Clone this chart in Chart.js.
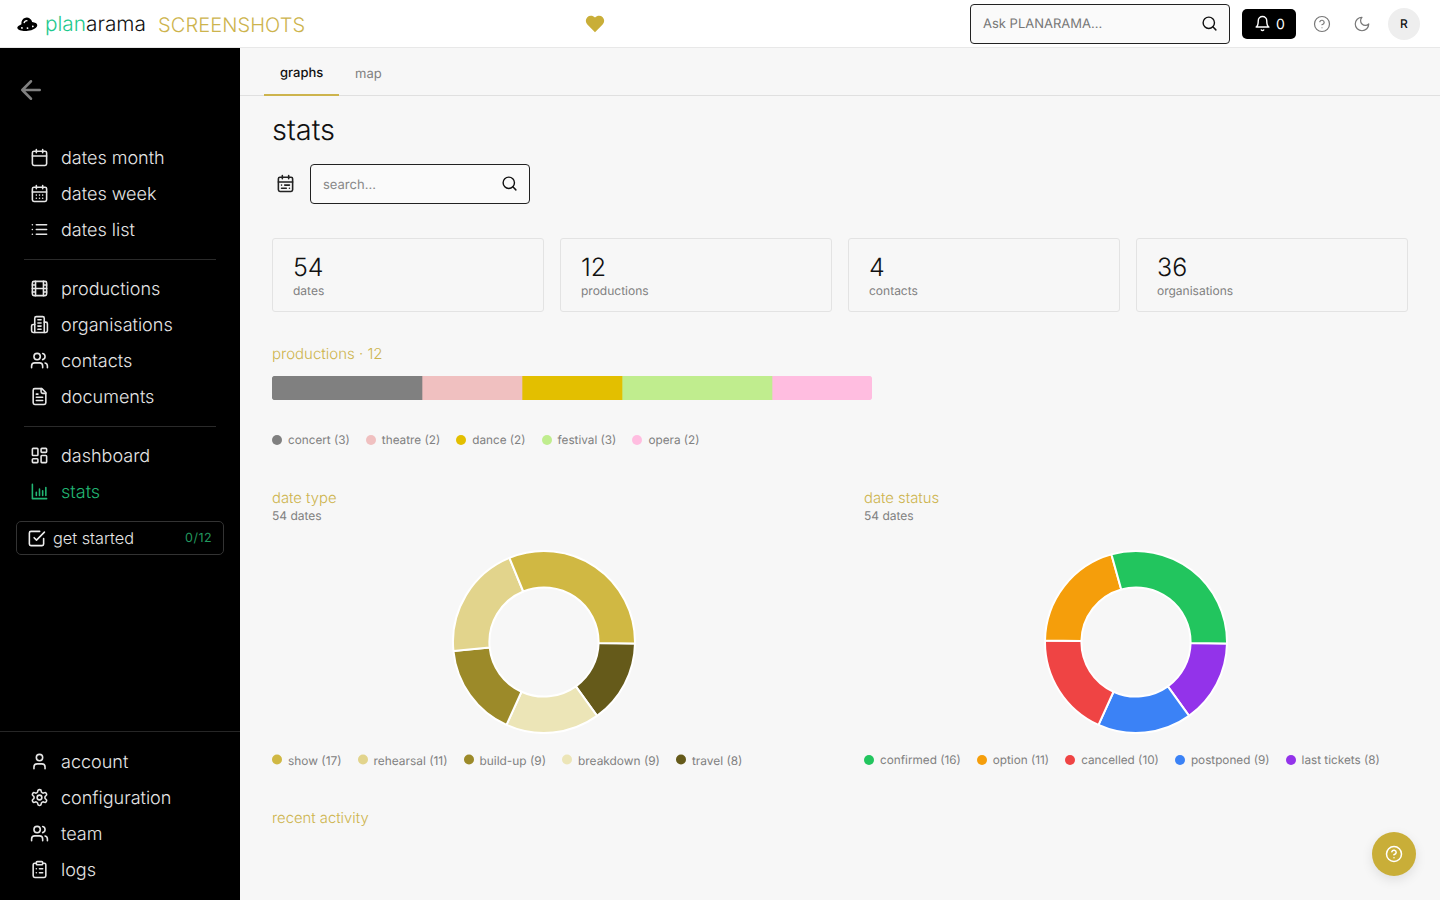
<!DOCTYPE html>
<html>
<head>
<meta charset="utf-8">
<title>planarama stats</title>
<script src="https://cdn.jsdelivr.net/npm/chart.js@4"></script>
<style>
  html, body { margin: 0; height: 100%; overflow: hidden; background: #f7f7f7; font-family: Inter, sans-serif; text-rendering: geometricPrecision; }
  #page { position: relative; width: 1440px; height: 900px; overflow: hidden; }
  .box { position: absolute; box-sizing: border-box; }
  .t { position: absolute; white-space: nowrap; transform: translateY(-50%); line-height: 1.2; }
  svg.i { position: absolute; fill: none; stroke: currentColor; stroke-linecap: round; stroke-linejoin: round; }
  canvas { position: absolute; }
  .legend { position: absolute; display: flex; gap: 16px; font-size: 11.75px; color: #808080; white-space: nowrap; transform: translateY(-50%); }
  .legend span { display: flex; align-items: center; gap: 6px; }
  .legend i { width: 10px; height: 10px; border-radius: 50%; display: block; }
</style>
</head>
<body>
<div id="page"></div>
<script>
// data
const productionLabels = ['concert', 'theatre', 'dance', 'festival', 'opera'];
const productionValues = [3, 2, 2, 3, 2];
const productionColors = ['#808080', '#f0c0c0', '#e3bf00', '#c0ed8e', '#ffbde0'];

const typeLabels = ['show', 'rehearsal', 'build-up', 'breakdown', 'travel'];
const typeValues = [17, 11, 9, 9, 8];
const typeColors = ['#d0b843', '#e2d48c', '#9c8a29', '#ece5b7', '#655a1a'];

const statusLabels = ['confirmed', 'option', 'cancelled', 'postponed', 'last tickets'];
const statusValues = [16, 11, 10, 9, 8];
const statusColors = ['#22c55e', '#f59e0b', '#ef4444', '#3b82f6', '#9333ea'];

const cardValues = ['54', '12', '4', '36'];
const cardLabels = ['dates', 'productions', 'contacts', 'organisations'];

const GOLD = '#cdb44d';
const page = document.getElementById('page');

const icons = {
  calendar: '<rect x="3" y="4" width="18" height="18" rx="2"/><path d="M16 2v4M8 2v4M3 10h18"/>',
  calendarDays: '<rect x="3" y="4" width="18" height="18" rx="2"/><path d="M16 2v4M8 2v4M3 10h18M8 14h.01M12 14h.01M16 14h.01M8 18h.01M12 18h.01M16 18h.01"/>',
  calendarRange: '<rect x="3" y="4" width="18" height="18" rx="2"/><path d="M16 2v4M8 2v4M3 10h18M17 14h-6M13 18H7M7 14h.01M17 18h.01"/>',
  list: '<path d="M8 6h13M8 12h13M8 18h13M3 6h.01M3 12h.01M3 18h.01"/>',
  film: '<rect x="3" y="3" width="18" height="18" rx="2"/><path d="M7 3v18M3 7.5h4M3 12h18M3 16.5h4M17 3v18M17 7.5h4M17 16.5h4"/>',
  building: '<path d="M6 22V4a2 2 0 0 1 2-2h8a2 2 0 0 1 2 2v18Z"/><path d="M6 12H4a2 2 0 0 0-2 2v6a2 2 0 0 0 2 2h2M18 9h2a2 2 0 0 1 2 2v9a2 2 0 0 1-2 2h-2M10 6h4M10 10h4M10 14h4M10 18h4"/>',
  users: '<path d="M16 21v-2a4 4 0 0 0-4-4H6a4 4 0 0 0-4 4v2"/><circle cx="9" cy="7" r="4"/><path d="M22 21v-2a4 4 0 0 0-3-3.87M16 3.13a4 4 0 0 1 0 7.75"/>',
  file: '<path d="M15 2H6a2 2 0 0 0-2 2v16a2 2 0 0 0 2 2h12a2 2 0 0 0 2-2V7z"/><path d="M14 2v4a2 2 0 0 0 2 2h4M10 9H8M16 13H8M16 17H8"/>',
  dashboard: '<rect x="3" y="3" width="7" height="9" rx="1"/><rect x="14" y="3" width="7" height="5" rx="1"/><rect x="14" y="12" width="7" height="9" rx="1"/><rect x="3" y="16" width="7" height="5" rx="1"/>',
  bars: '<path d="M3 3v18h18M8 17v-4M12 17V9M16 17v-6M20 17V7"/>',
  check: '<path d="m9 11 3 3L22 4"/><path d="M21 12v7a2 2 0 0 1-2 2H5a2 2 0 0 1-2-2V5a2 2 0 0 1 2-2h11"/>',
  user: '<path d="M19 21v-2a4 4 0 0 0-4-4H9a4 4 0 0 0-4 4v2"/><circle cx="12" cy="7" r="4"/>',
  cog: '<path d="M12.22 2h-.44a2 2 0 0 0-2 2v.18a2 2 0 0 1-1 1.73l-.43.25a2 2 0 0 1-2 0l-.15-.08a2 2 0 0 0-2.73.73l-.22.38a2 2 0 0 0 .73 2.73l.15.1a2 2 0 0 1 1 1.72v.51a2 2 0 0 1-1 1.74l-.15.09a2 2 0 0 0-.73 2.73l.22.38a2 2 0 0 0 2.73.73l.15-.08a2 2 0 0 1 2 0l.43.25a2 2 0 0 1 1 1.73V20a2 2 0 0 0 2 2h.44a2 2 0 0 0 2-2v-.18a2 2 0 0 1 1-1.73l.43-.25a2 2 0 0 1 2 0l.15.08a2 2 0 0 0 2.73-.73l.22-.39a2 2 0 0 0-.73-2.73l-.15-.08a2 2 0 0 1-1-1.74v-.5a2 2 0 0 1 1-1.74l.15-.09a2 2 0 0 0 .73-2.73l-.22-.38a2 2 0 0 0-2.73-.73l-.15.08a2 2 0 0 1-2 0l-.43-.25a2 2 0 0 1-1-1.73V4a2 2 0 0 0-2-2z"/><circle cx="12" cy="12" r="3"/>',
  clipboard: '<rect x="8" y="2" width="8" height="4" rx="1"/><path d="M16 4h2a2 2 0 0 1 2 2v14a2 2 0 0 1-2 2H6a2 2 0 0 1-2-2V6a2 2 0 0 1 2-2h2M12 11h4M12 16h4M8 11h.01M8 16h.01"/>',
  search: '<circle cx="11" cy="11" r="8"/><path d="m21 21-4.3-4.3"/>',
  bell: '<path d="M6 8a6 6 0 0 1 12 0c0 7 3 9 3 9H3s3-2 3-9"/><path d="M10.3 21a1.94 1.94 0 0 0 3.4 0"/>',
  help: '<circle cx="12" cy="12" r="10"/><path d="M9.09 9a3 3 0 0 1 5.83 1c0 2-3 3-3 3M12 17h.01"/>',
  moon: '<path d="M12 3a6 6 0 0 0 9 9 9 9 0 1 1-9-9Z"/>',
  arrow: '<path d="m12 19-7-7 7-7M19 12H5"/>'
};

function box(x, y, w, h, css) {
  const el = document.createElement('div');
  el.className = 'box';
  el.style.cssText = `left:${x}px;top:${y}px;width:${w}px;height:${h}px;${css || ''}`;
  page.appendChild(el);
  return el;
}

// text, x is the left edge and cy the vertical middle
function text(str, x, cy, size, weight, color, extra) {
  const el = document.createElement('div');
  el.className = 't';
  el.textContent = str;
  el.style.cssText = `left:${x}px;top:${cy}px;font-size:${size}px;font-weight:${weight};color:${color};${extra || ''}`;
  page.appendChild(el);
  return el;
}

function icon(name, cx, cy, size, color, sw) {
  const ns = 'http://www.w3.org/2000/svg';
  const s = document.createElementNS(ns, 'svg');
  s.setAttribute('viewBox', '0 0 24 24');
  s.setAttribute('class', 'i');
  s.setAttribute('width', size);
  s.setAttribute('height', size);
  s.style.cssText = `left:${cx - size / 2}px;top:${cy - size / 2}px;color:${color};stroke-width:${sw || 2}`;
  s.innerHTML = icons[name];
  page.appendChild(s);
}

function legend(labels, values, colors, x, cy, size) {
  const el = document.createElement('div');
  el.className = 'legend';
  el.style.left = x + 'px';
  el.style.top = cy + 'px';
  if (size) el.style.fontSize = size + 'px';
  labels.forEach((l, i) => {
    const s = document.createElement('span');
    s.innerHTML = `<i style="background:${colors[i]}"></i>${l} (${values[i]})`;
    el.appendChild(s);
  });
  page.appendChild(el);
}

function canvasAt(x, y, w, h) {
  const c = document.createElement('canvas');
  c.width = w;
  c.height = h;
  c.style.cssText = `left:${x}px;top:${y}px;width:${w}px;height:${h}px`;
  page.appendChild(c);
  return c;
}

// header
box(0, 0, 1440, 48, 'background:#fff;border-bottom:1px solid #e8e8e8');
const ufo = document.createElementNS('http://www.w3.org/2000/svg', 'svg');
ufo.setAttribute('viewBox', '0 0 24 16');
ufo.setAttribute('width', 22);
ufo.setAttribute('height', 15);
ufo.style.cssText = 'position:absolute;left:16px;top:17px;transform:rotate(-8deg)';
ufo.innerHTML = '<path d="M6 7a6 6 0 0 1 12-1c3 1 5 2 5 4 0 3-6 5-11 5S1 13 1 10c0-1 2-2 5-3Z" fill="#000"/><path d="M9 6a3.5 3.5 0 0 1 4-2" fill="none" stroke="#fff" stroke-width="1.4"/><circle cx="6" cy="11" r="1" fill="#fff"/><circle cx="12" cy="12" r="1" fill="#fff"/><circle cx="18" cy="11" r="1" fill="#fff"/>';
page.appendChild(ufo);
const brand = text('', 45, 24.5, 20.8, 300, '#111');
brand.innerHTML = '<span style="color:#1fc98e">plan</span>arama';
text('SCREENSHOTS', 158, 24.5, 20, 300, GOLD, 'letter-spacing:.1px');
const heart = document.createElementNS('http://www.w3.org/2000/svg', 'svg');
heart.setAttribute('viewBox', '0 0 24 24');
heart.setAttribute('width', 22);
heart.setAttribute('height', 22);
heart.style.cssText = 'position:absolute;left:584px;top:13px';
heart.innerHTML = '<path d="M19 14c1.49-1.46 3-3.21 3-5.5A5.5 5.5 0 0 0 16.5 3c-1.76 0-3 .5-4.5 2-1.5-1.5-2.74-2-4.5-2A5.5 5.5 0 0 0 2 8.5c0 2.3 1.5 4.05 3 5.5l7 7Z" fill="#c9ae38"/>';
page.appendChild(heart);

box(970, 4, 260, 40, 'background:#fafafa;border:1.5px solid #222;border-radius:4px');
text('Ask PLANARAMA...', 983, 25, 13, 400, '#777');
icon('search', 1209.5, 23.5, 17, '#111');
box(1242, 9, 54, 30, 'background:#000;border-radius:5px');
icon('bell', 1262, 23.5, 17, '#fff');
text('0', 1276, 24.5, 14, 400, '#fff');
icon('help', 1322, 24, 18, '#777', 1.6);
icon('moon', 1362, 24, 18, '#777', 1.6);
box(1388, 8, 32, 32, 'background:#eee;border-radius:50%');
text('R', 1400, 24, 12, 500, '#111');

// sidebar
box(0, 48, 240, 852, 'background:#000');
icon('arrow', 31, 90, 30, '#808080', 2);
const navItems = [
  ['calendar', 'dates month', 158], ['calendarDays', 'dates week', 194], ['list', 'dates list', 230],
  ['film', 'productions', 289], ['building', 'organisations', 325], ['users', 'contacts', 361], ['file', 'documents', 397],
  ['dashboard', 'dashboard', 456], ['bars', 'stats', 492],
  ['user', 'account', 762], ['cog', 'configuration', 798], ['users', 'team', 834], ['clipboard', 'logs', 870]
];
navItems.forEach(([ic, label, y]) => {
  const col = label === 'stats' ? '#22b573' : '#e6e6e6';
  icon(ic, 39.5, y - 0.5, 19, col, 2);
  text(label, 61, y + 1, 18, 300, col);
});
box(24, 259, 192, 1, 'background:#2a2a2a');
box(24, 426, 192, 1, 'background:#2a2a2a');
box(0, 731, 240, 1, 'background:#262626');
box(16, 521, 208, 34, 'border:1px solid #333;border-radius:5px');
icon('check', 36, 538, 19, '#eee', 2);
text('get started', 53, 539, 16.3, 300, '#e6e6e6');
text('0/12', 185, 538, 12.5, 400, '#22985f', 'letter-spacing:.5px');

// tabs
box(240, 95, 1200, 1, 'background:#e0e0e0');
box(264, 94, 75, 2, `background:${GOLD}`);
text('graphs', 280, 74, 13, 500, '#111');
text('map', 355, 74.5, 13, 400, '#808080');

// title and search
text('stats', 272, 130, 29, 300, '#111');
icon('calendarRange', 285.5, 183.5, 19, '#222', 2);
box(310, 164, 220, 40, 'background:#fafafa;border:1.5px solid #222;border-radius:4px');
text('search...', 323, 185.5, 13, 400, '#888');
icon('search', 509.5, 183.5, 17, '#111');

// cards
cardValues.forEach((v, i) => {
  const x = 272 + i * 288;
  box(x, 238, 272, 74, 'border:1px solid #e3e3e3;border-radius:3px');
  text(v, x + 21, 267.5, 25, 300, '#111');
  text(cardLabels[i], x + 21, 291, 12, 400, '#808080');
});

// productions
text('productions · 12', 272, 354, 15, 300, GOLD);
legend(productionLabels, productionValues, productionColors, 272, 439.5);
new Chart(canvasAt(272, 376, 600, 24), {
  type: 'bar',
  data: {
    labels: ['productions'],
    datasets: productionLabels.map((l, i) => ({
      label: l,
      data: [productionValues[i]],
      backgroundColor: productionColors[i],
      borderSkipped: false,
      borderRadius: i === 0 ? { topLeft: 4, bottomLeft: 4 } : i === productionLabels.length - 1 ? { topRight: 4, bottomRight: 4 } : 0,
      barPercentage: 1,
      categoryPercentage: 1
    }))
  },
  options: {
    indexAxis: 'y',
    responsive: false,
    animation: false,
    plugins: { legend: { display: false }, tooltip: { enabled: false } },
    scales: {
      x: { stacked: true, display: false, min: 0, max: 12 },
      y: { stacked: true, display: false }
    }
  }
});

// donuts, reversed because the slices run anti-clockwise from 3 o'clock
function donut(x, values, colors, labels) {
  new Chart(canvasAt(x, 550, 184, 184), {
    type: 'doughnut',
    data: {
      labels: labels.slice().reverse(),
      datasets: [{
        data: values.slice().reverse(),
        backgroundColor: colors.slice().reverse(),
        borderColor: '#fff',
        borderWidth: 2
      }]
    },
    options: {
      responsive: false,
      animation: false,
      rotation: 91,
      cutout: '60%',
      plugins: { legend: { display: false }, tooltip: { enabled: false } }
    }
  });
}

text('date type', 272, 498.5, 14.8, 300, GOLD);
text('54 dates', 272, 516, 12, 400, '#808080');
donut(452, typeValues, typeColors, typeLabels);
legend(typeLabels, typeValues, typeColors, 272, 759.5, 11.9);

text('date status', 864, 498.5, 14.8, 300, GOLD);
text('54 dates', 864, 516, 12, 400, '#808080');
donut(1044, statusValues, statusColors, statusLabels);
legend(statusLabels, statusValues, statusColors, 864, 759.5);

text('recent activity', 272, 818.5, 14.8, 300, GOLD);

// help button
box(1372, 832, 44, 44, 'background:#c9ae38;border-radius:50%;box-shadow:0 4px 12px rgba(0,0,0,.1)');
icon('help', 1394, 854, 18, '#fff', 2);
</script>
</body>
</html>
